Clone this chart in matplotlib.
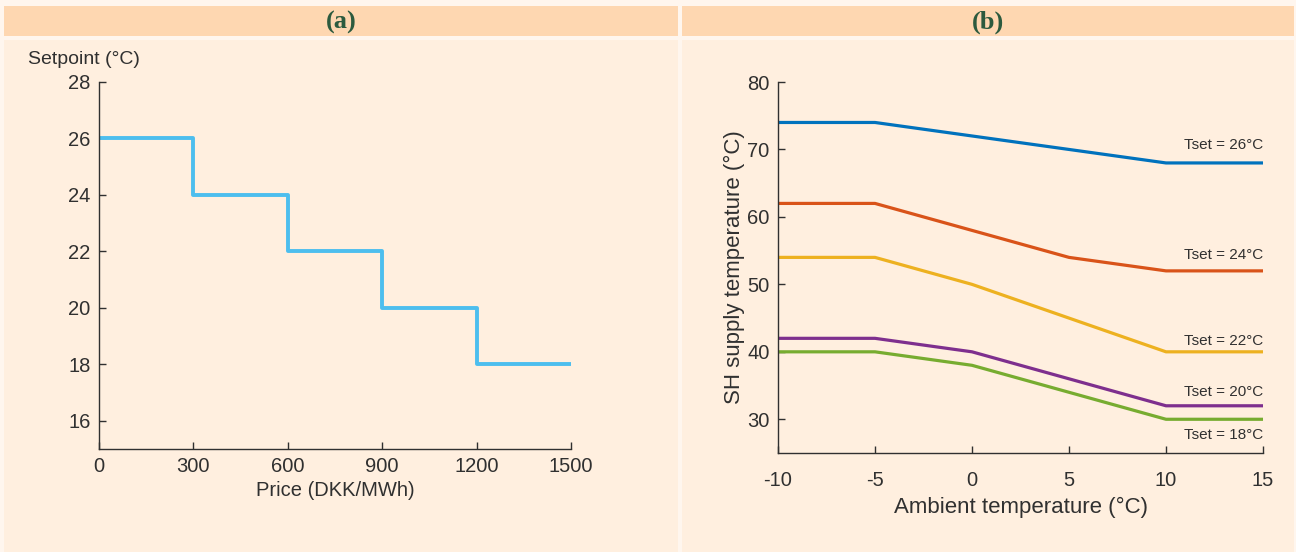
import matplotlib
matplotlib.use('Agg')
import matplotlib.pyplot as plt
from matplotlib.patches import Rectangle

# panel (a): price-based setpoint steps
price = [0, 300, 600, 900, 1200, 1500]
setpoint = [26, 24, 22, 20, 18, 18]

# panel (b): SH supply temperature curves
ambient = [-10, -5, 0, 5, 10, 15]
tset_labels = ['Tset = 26°C', 'Tset = 24°C', 'Tset = 22°C', 'Tset = 20°C', 'Tset = 18°C']
supply_26 = [74, 74, 72, 70, 68, 68]
supply_24 = [62, 62, 58, 54, 52, 52]
supply_22 = [54, 54, 50, 45, 40, 40]
supply_20 = [42, 42, 40, 36, 32, 32]
supply_18 = [40, 40, 38, 34, 30, 30]
label_y = [70.6, 54.3, 41.6, 34.0, 27.6]

colors = ['#0072BD', '#D95319', '#EDB120', '#7E2F8E', '#77AC30']
txt = '#303030'

plt.rcParams['font.family'] = ['Liberation Sans', 'DejaVu Sans']
plt.rcParams['axes.unicode_minus'] = False

W, H = 1296, 552
fig = plt.figure(figsize=(W / 100, H / 100), dpi=100)
fig.patch.set_facecolor('#fff6ee')

def box(x0, y0, x1, y1, c):
    fig.patches.append(Rectangle((x0 / W, 1 - y1 / H), (x1 - x0) / W, (y1 - y0) / H,
                                 transform=fig.transFigure, facecolor=c, edgecolor='none', zorder=-5))

box(4, 6, 678, 36, '#fed7b1')
box(682, 6, 1294, 36, '#fed7b1')
box(4, 40, 678, 552, '#ffefdf')
box(682, 40, 1294, 552, '#ffefdf')

hdr = dict(family=['Liberation Serif', 'DejaVu Serif'], fontweight='bold', fontsize=19,
           color='#2c5a3e', ha='center', va='center')
fig.text(341 / W, 1 - 22 / H, '(a)', **hdr)
fig.text(988 / W, 1 - 22 / H, '(b)', **hdr)

def style(ax):
    ax.set_facecolor('none')
    for s in ['top', 'right']:
        ax.spines[s].set_visible(False)
    for s in ['left', 'bottom']:
        ax.spines[s].set_color(txt)
        ax.spines[s].set_linewidth(1.0)
    ax.tick_params(direction='in', length=5, width=1.0, colors=txt, labelsize=14.5, pad=6)

# (a)
ax1 = fig.add_axes([99 / W, 1 - 449 / H, (571 - 99) / W, (449 - 82) / H])
style(ax1)
ax1.step(price, setpoint, where='post', color='#4DBEEE', linewidth=2.8)
ax1.set_xlim(0, 1500)
ax1.set_ylim(15, 28)
ax1.set_xticks(price)
ax1.set_yticks([16, 18, 20, 22, 24, 26, 28])
ax1.set_xlabel('Price (DKK/MWh)', fontsize=14.5, color=txt, labelpad=3)
fig.text(28 / W, 1 - 60 / H, 'Setpoint (°C)', fontsize=14, color=txt, va='center', ha='left')

# (b)
ax2 = fig.add_axes([778 / W, 1 - 453 / H, (1263 - 778) / W, (453 - 82) / H])
style(ax2)
ax2.tick_params(axis='x', pad=13)
series = [supply_26, supply_24, supply_22, supply_20, supply_18]
for vals, c, lab, ly in zip(series, colors, tset_labels, label_y):
    ax2.plot(ambient, vals, color=c, linewidth=2.3)
    ax2.text(15, ly, lab, fontsize=11, color=txt, ha='right', va='center')
ax2.set_xlim(-10, 15)
ax2.set_ylim(25, 80)
ax2.set_xticks(ambient)
ax2.set_yticks([30, 40, 50, 60, 70, 80])
ax2.set_xlabel('Ambient temperature (°C)', fontsize=16, color=txt, labelpad=5)
ax2.set_ylabel('SH supply temperature (°C)', fontsize=16, color=txt, labelpad=2)

fig.savefig('out.png', dpi=100, facecolor=fig.get_facecolor())
